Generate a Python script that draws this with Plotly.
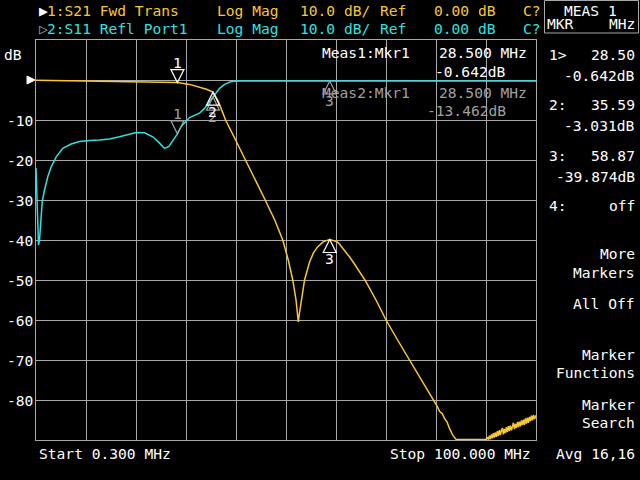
import plotly.graph_objects as go

# ---------------- data ----------------
s21_freq = [0.3, 3.4, 10.0, 16.5, 22.0, 26.0, 28.5, 30.9, 32.9, 34.3, 35.59, 36.6, 37.3, 38.1,
            40.1, 42.1, 44.0, 46.0, 47.9, 49.5, 50.6, 51.5, 52.15, 52.45, 52.6, 52.75, 53.2, 53.85,
            54.85, 55.6, 56.4, 57.6, 58.87, 60.3, 60.8, 61.8, 62.8, 63.8, 64.8, 66.0, 68.1, 70.1,
            72.4, 74.8, 77.1, 78.1, 79.5, 80.3, 80.8, 81.3, 81.75, 82.3, 82.75, 83.4, 84.1, 86.0,
            88.0, 90.0,
            90.3, 90.5, 90.7, 90.9, 91.1, 91.3, 91.5, 91.7, 91.9, 92.1, 92.3, 92.5, 92.7, 92.9,
            93.1, 93.3, 93.5, 93.7, 93.9, 94.1, 94.3, 94.5, 94.7, 94.9, 95.1, 95.3, 95.5, 95.7,
            95.9, 96.1, 96.3, 96.5, 96.7, 96.9, 97.1, 97.3, 97.5, 97.7, 97.9, 98.1, 98.3, 98.5,
            98.7, 98.9, 99.1, 99.3, 99.5, 99.7, 100.0]
s21_db = [-0.05, -0.12, -0.3, -0.4, -0.55, -0.6, -0.642, -1.1, -1.7, -2.3, -3.031, -5.2, -7.4, -10.0,
          -15.0, -20.0, -25.0, -30.0, -35.0, -40.0, -45.0, -50.0, -55.0, -58.0, -60.5, -59.0, -55.0, -50.0,
          -45.5, -43.3, -41.8, -40.4, -39.874, -40.4, -41.0, -42.5, -44.2, -46.0, -47.9, -50.2, -55.0, -60.0,
          -65.0, -70.0, -75.0, -77.0, -80.0, -81.6, -82.9, -83.4, -84.6, -85.6, -87.1, -88.8, -89.9, -89.9,
          -89.9, -89.9,
          -89.3, -89.9, -88.9, -89.8, -88.6, -89.6, -88.3, -89.4, -88.1, -89.2, -87.8, -89.0, -87.5, -88.8,
          -87.7, -87.0, -88.6, -87.2, -88.3, -86.8, -88.0, -86.5, -87.8, -86.4, -87.6, -86.6, -85.7, -87.3,
          -86.0, -87.0, -85.5, -86.8, -85.4, -86.6, -85.1, -86.3, -84.9, -86.2, -84.6, -85.9, -84.4, -85.7,
          -84.2, -85.3, -83.9, -85.1, -83.7, -84.8, -83.8]

s11_freq = [0.3, 0.36, 0.45, 0.6, 0.8, 1.0, 1.2, 1.54, 2.0, 2.65, 3.33, 4.33, 5.64, 7.32, 8.97,
            11.0, 12.96, 14.96, 16.95, 18.6, 20.28, 21.93, 23.59, 24.8, 25.92, 26.8, 27.58, 28.5,
            29.25, 30.91, 32.9, 33.9, 34.9, 35.9, 36.9, 37.9, 39.2, 40.9, 50.0, 60.0, 70.0, 80.0,
            90.0, 100.0]
s11_db = [-22.0, -24.5, -32.0, -39.0, -41.3, -40.0, -37.0, -30.4, -27.5, -24.2, -21.7, -19.2, -17.1, -16.0, -15.4,
          -15.1, -15.0, -14.75, -14.2, -13.6, -13.1, -13.2, -14.2, -15.6, -17.1, -16.6, -15.3, -13.462,
          -11.6, -9.4, -8.3, -7.1, -5.4, -3.75, -2.1, -1.1, -0.4, -0.25, -0.25, -0.25, -0.25, -0.25,
          -0.25, -0.25]

mkr_freq = [28.5, 35.59, 58.87]
mkr_s21 = [-0.642, -3.031, -39.874]
mkr_s11 = [-13.462, -4.3, -0.25]
mkr_labels = ["1", "2", "3"]

start_mhz = 0.3
stop_mhz = 100.0
ytick_vals = [-10, -20, -30, -40, -50, -60, -70, -80]

# ---------------- style ----------------
FONT = "DejaVu Sans Mono"
FS = 14.6
YEL = "#f8c830"
CYA = "#30e0e0"
GRID = "#a8a8a8"
GRAYTXT = "#a0a0a0"
WHITE = "#ffffff"

L, T, W, H = 36, 40, 500, 400


def px(x):
    return (x - L) / W


def py(y):
    return (T + H - y) / H


fig = go.Figure()
fig.add_trace(go.Scatter(x=s21_freq, y=s21_db, mode="lines",
                         line=dict(color=YEL, width=1.5), hoverinfo="skip"))
fig.add_trace(go.Scatter(x=s11_freq, y=s11_db, mode="lines",
                         line=dict(color=CYA, width=1.5), hoverinfo="skip"))

annotations = []
shapes = []


def txt(x, y, s, color=WHITE, anchor="left"):
    annotations.append(dict(x=px(x), y=py(y), xref="paper", yref="paper", text=s,
                            showarrow=False, xanchor=anchor, yanchor="middle",
                            font=dict(family=FONT, size=FS, color=color)))


# y tick labels
for v in ytick_vals:
    annotations.append(dict(x=0, y=v, xref="paper", yref="y", text=str(v),
                            showarrow=False, xanchor="right", yanchor="middle", xshift=-1,
                            font=dict(family=FONT, size=FS, color=WHITE)))
txt(2, 55, "dB")

# reference pointer
shapes.append(dict(type="path", xref="paper", yref="y", xsizemode="pixel", ysizemode="pixel",
                   xanchor=0, yanchor=0, path="M -9,4 L -1,0 L -9,-4 Z",
                   fillcolor=WHITE, line=dict(color=WHITE, width=1)))

# header
txt(36.5, 10, "\u25b6", WHITE)
txt(45.3, 10, "1:S21 Fwd Trans", YEL)
txt(215, 10, "Log Mag", YEL)
txt(298, 10, "10.0 dB/", YEL)
txt(378, 10, "Ref", YEL)
txt(432, 10, "0.00 dB", YEL)
txt(521, 10, "C?", YEL)
txt(36.5, 29, "\u25b7", GRAYTXT)
txt(45.3, 29, "2:S11 Refl Port1", CYA)
txt(215, 29, "Log Mag", CYA)
txt(298, 29, "10.0 dB/", CYA)
txt(378, 29, "Ref", CYA)
txt(432, 29, "0.00 dB", CYA)
txt(521, 29, "C?", CYA)

# marker readouts in plot
txt(320, 53, "Meas1:Mkr1", WHITE)
txt(437, 53, "%.3f MHz" % mkr_freq[0], WHITE)
txt(507.5, 71, "%.3fdB" % mkr_s21[0], WHITE, "right")
txt(320, 93, "Meas2:Mkr1", GRAYTXT)
txt(437, 93, "%.3f MHz" % mkr_freq[0], GRAYTXT)
txt(507.5, 110, "%.3fdB" % mkr_s11[0], GRAYTXT, "right")

# right panel
shapes.append(dict(type="rect", xref="paper", yref="paper", x0=px(544.5), x1=px(638.5),
                   y0=py(0.5), y1=py(33), line=dict(color=GRID, width=1)))
txt(590, 10, "MEAS 1", WHITE, "center")
txt(545, 24, "MKR", WHITE)
txt(637, 24, "MHz", WHITE, "right")
txt(547, 55, "1>", WHITE)
txt(637, 55, "%.2f" % mkr_freq[0], WHITE, "right")
txt(637, 76, "%.3fdB" % mkr_s21[0], WHITE, "right")
txt(547, 105, "2:", WHITE)
txt(637, 105, "%.2f" % mkr_freq[1], WHITE, "right")
txt(637, 126, "%.3fdB" % mkr_s21[1], WHITE, "right")
txt(547, 155, "3:", WHITE)
txt(637, 155, "%.2f" % mkr_freq[2], WHITE, "right")
txt(637, 176, "%.3fdB" % mkr_s21[2], WHITE, "right")
txt(547, 205, "4:", WHITE)
txt(637, 205, "off", WHITE, "right")
txt(637, 254, "More", WHITE, "right")
txt(637, 272, "Markers", WHITE, "right")
txt(637, 304, "All Off", WHITE, "right")
txt(637, 354, "Marker", WHITE, "right")
txt(637, 372, "Functions", WHITE, "right")
txt(637, 404, "Marker", WHITE, "right")
txt(637, 422, "Search", WHITE, "right")
txt(637, 453, "Avg 16,16", WHITE, "right")

# footer
txt(36.5, 453, "Start %.3f MHz" % start_mhz, WHITE)
txt(533, 453, "Stop %.3f MHz" % stop_mhz, WHITE, "right")


# markers
def marker(f, v, lab, color, down):
    if down:
        path = "M -6.5,13 L 6.5,13 L 0,0 Z"
        ys = 20
    else:
        path = "M -6.5,-13 L 6.5,-13 L 0,0 Z"
        ys = -19
    shapes.append(dict(type="path", xref="x", yref="y", xsizemode="pixel", ysizemode="pixel",
                       xanchor=f, yanchor=v, path=path, line=dict(color=color, width=1.2)))
    annotations.append(dict(x=f, y=v, xref="x", yref="y", text=lab, showarrow=False,
                            xanchor="center", yanchor="middle", yshift=ys,
                            font=dict(family=FONT, size=FS, color=color)))


for i in range(3):
    marker(mkr_freq[i], mkr_s11[i], mkr_labels[i], GRAYTXT, i == 0)
for i in range(3):
    marker(mkr_freq[i], mkr_s21[i], mkr_labels[i], WHITE, i == 0)

axis_common = dict(showgrid=True, gridcolor=GRID, gridwidth=1, zeroline=False,
                   showline=True, linecolor=GRID, linewidth=1, mirror=True,
                   showticklabels=False, ticks="", fixedrange=True)

fig.update_layout(
    width=640, height=480, autosize=False,
    margin=dict(l=L, r=640 - L - W, t=T, b=480 - T - H, pad=0),
    paper_bgcolor="black", plot_bgcolor="black",
    showlegend=False, hovermode=False,
    xaxis=dict(range=[start_mhz, stop_mhz], tick0=start_mhz, dtick=(stop_mhz - start_mhz) / 10,
               **axis_common),
    yaxis=dict(range=[-90, 10], tick0=0, dtick=10, **axis_common),
    annotations=annotations, shapes=shapes,
)

fig.write_html("out.html", config={"displayModeBar": False},
               post_script="document.body.style.margin='0px';document.body.style.background='black';")
